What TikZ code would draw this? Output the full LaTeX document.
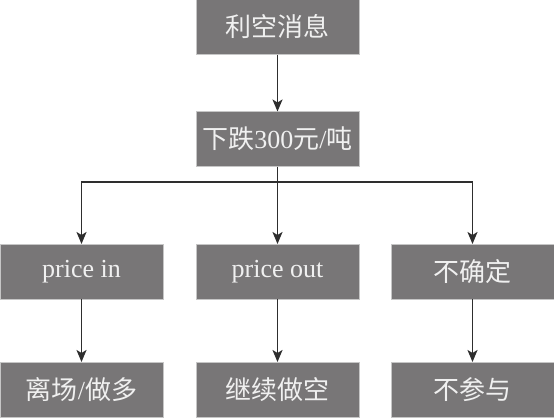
\documentclass[tikz,border=0pt]{standalone}
\usepackage{fontspec}
\setmainfont{Liberation Serif}
\newfontfamily\cjk{Noto Sans CJK SC}
\usepackage{xcolor}
\usetikzlibrary{arrows.meta, positioning}
\definecolor{boxgray}{HTML}{787677}
\definecolor{linegray}{HTML}{2E2E2E}

\begin{document}
\begin{tikzpicture}[x=1pt,y=-1pt,
    box/.style={fill=boxgray,draw=gray!45,line width=0.6pt,minimum width=163pt,minimum height=55pt,
        inner sep=0pt,outer sep=0pt,text=white!94!black,font=\fontsize{26}{30}\selectfont},
    link/.style={draw=linegray,line width=1.8pt,-{Stealth[length=12pt,width=10pt,inset=3pt]}}]
\useasboundingbox (0,0) rectangle (554,418);
% === TOP: news and price drop ===
\node[box] (news) at (277.5,27) {\cjk 利空消息};
\node[box] (drop) at (277.5,139) {{\cjk 下跌}300{\cjk 元}/{\cjk 吨}};
% === MIDDLE ROW: three readings ===
\node[box] (pin) at (81.5,271.5) {price in};
\node[box] (pout) at (277.5,271.5) {price out};
\node[box] (unsure) at (472.5,271.5) {\cjk 不确定};
% === BOTTOM ROW: actions ===
\node[box] (leave) at (81.5,389.5) {{\cjk 离场}/{\cjk 做多}};
\node[box] (hold) at (277.5,389.5) {\cjk 继续做空};
\node[box] (skip) at (472.5,389.5) {\cjk 不参与};
% connectors
\coordinate (split) at (277.5,182);
\draw[link] (news) -- (drop);
\draw[draw=linegray,line width=1.8pt] (drop) -- (split);
\foreach \t in {pin,pout,unsure}
    \draw[link] (split) -| (\t.north);
\foreach \a/\b in {pin/leave,pout/hold,unsure/skip}
    \draw[link] (\a) -- (\b);
\end{tikzpicture}
\end{document}
